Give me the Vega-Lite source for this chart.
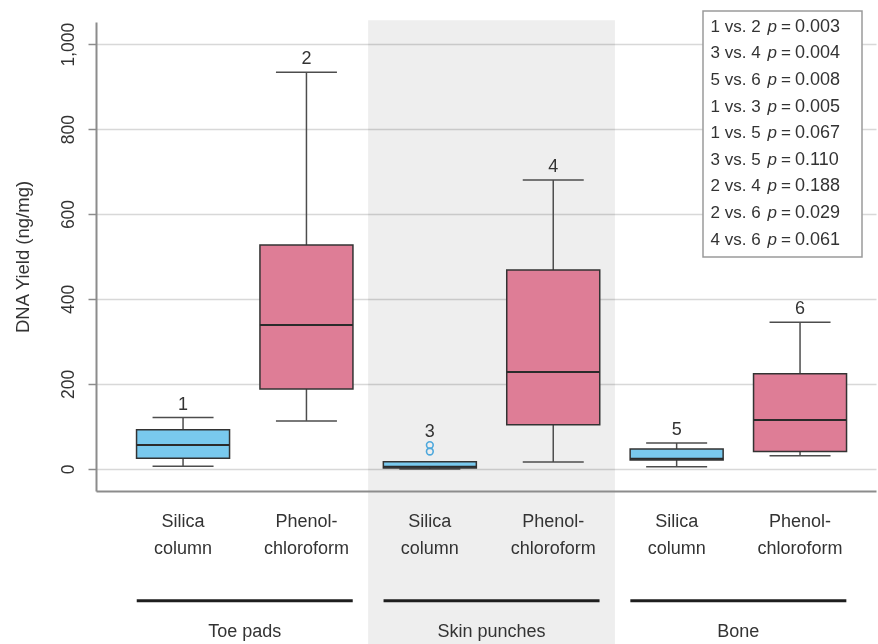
{
  "$schema": "https://vega.github.io/schema/vega-lite/v6.json",
  "width": 780,
  "height": 469,
  "autosize": {"type": "none"},
  "padding": {"left": 96, "top": 22, "right": 2, "bottom": 153},
  "background": "white",
  "config": {
    "view": {"stroke": null},
    "font": "Liberation Sans",
    "numberFormat": ",d",
    "text": {"font": "Liberation Sans", "color": "#333333"},
    "tick": {"opacity": 1},
    "axisY": {
      "tickCount": 6,
      "labelAngle": -90,
      "labelAlign": "center",
      "labelBaseline": "bottom",
      "labelFontSize": 17.5,
      "labelColor": "#333333",
      "labelPadding": 11,
      "tickSize": 8,
      "tickColor": "#8c8c8c",
      "tickWidth": 1.5,
      "domainColor": "#8c8c8c",
      "domainWidth": 2,
      "grid": true,
      "gridColor": "#d8d8d8",
      "gridWidth": 1.5,
      "titleFontSize": 18.5,
      "titleFontWeight": "normal",
      "titleColor": "#333333",
      "titlePadding": 27
    },
    "axisX": {
      "grid": false,
      "ticks": false,
      "labelAngle": 0,
      "labelFontSize": 18,
      "labelLineHeight": 27,
      "labelBaseline": "top",
      "labelPadding": 21,
      "labelColor": "#333333",
      "labelOverlap": false,
      "domainColor": "#8c8c8c",
      "domainWidth": 2
    }
  },
  "datasets": {
    "boxes": [
      {"id": 1, "tissue": "Toe pads", "method": "Silica column", "lo": 6, "q1": 25, "median": 56, "q3": 92, "hi": 121, "max": 121},
      {"id": 2, "tissue": "Toe pads", "method": "Phenol-chloroform", "lo": 113, "q1": 188, "median": 339, "q3": 527, "hi": 934, "max": 934},
      {"id": 3, "tissue": "Skin punches", "method": "Silica column", "lo": 0, "q1": 2, "median": 5, "q3": 17, "hi": 17, "max": 56},
      {"id": 4, "tissue": "Skin punches", "method": "Phenol-chloroform", "lo": 16, "q1": 104, "median": 228, "q3": 468, "hi": 680, "max": 680},
      {"id": 5, "tissue": "Bone", "method": "Silica column", "lo": 5, "q1": 21, "median": 24, "q3": 47, "hi": 61, "max": 61},
      {"id": 6, "tissue": "Bone", "method": "Phenol-chloroform", "lo": 31, "q1": 41, "median": 115, "q3": 224, "hi": 345, "max": 345}
    ],
    "outliers": [
      {"id": 3, "value": 56},
      {"id": 3, "value": 41}
    ],
    "tests": [
      {"pair": "1 vs. 2", "p": 0.003},
      {"pair": "3 vs. 4", "p": 0.004},
      {"pair": "5 vs. 6", "p": 0.008},
      {"pair": "1 vs. 3", "p": 0.005},
      {"pair": "1 vs. 5", "p": 0.067},
      {"pair": "3 vs. 5", "p": 0.110},
      {"pair": "2 vs. 4", "p": 0.188},
      {"pair": "2 vs. 6", "p": 0.029},
      {"pair": "4 vs. 6", "p": 0.061}
    ]
  },
  "layer": [
    {
      "data": {"name": "boxes"},
      "encoding": {
        "x": {
          "field": "id",
          "type": "ordinal",
          "title": null,
          "scale": {"type": "band", "domain": [1, 2, 3, 4, 5, 6], "paddingInner": 0, "paddingOuter": 0.1605, "align": 0.64},
          "axis": {
            "title": null,
            "labelExpr": "datum.value % 2 == 1 ? ['Silica', 'column'] : ['Phenol-', 'chloroform']"
          }
        }
      },
      "layer": [
        {
          "transform": [{"filter": "datum.tissue == 'Skin punches'"}],
          "mark": {"type": "rect", "fill": "#eeeeee", "blend": "multiply", "clip": false},
          "encoding": {
            "y": {"datum": 1056, "type": "quantitative", "title": "DNA Yield (ng/mg)", "scale": {"domain": [-52, 1052], "nice": false, "zero": false}},
            "y2": {"datum": -420}
          }
        },
        {
          "mark": {"type": "rule", "color": "#4d4d4d", "strokeWidth": 1.5},
          "encoding": {
            "y": {"field": "lo", "type": "quantitative", "title": "DNA Yield (ng/mg)", "scale": {"domain": [-52, 1052], "nice": false, "zero": false}},
            "y2": {"field": "q1"}
          }
        },
        {
          "mark": {"type": "rule", "color": "#4d4d4d", "strokeWidth": 1.5},
          "encoding": {
            "y": {"field": "q3", "type": "quantitative", "title": "DNA Yield (ng/mg)", "scale": {"domain": [-52, 1052], "nice": false, "zero": false}},
            "y2": {"field": "hi"}
          }
        },
        {
          "mark": {"type": "tick", "orient": "horizontal", "color": "#4d4d4d", "size": 61, "thickness": 1.5},
          "encoding": {
            "y": {"field": "lo", "type": "quantitative", "title": "DNA Yield (ng/mg)", "scale": {"domain": [-52, 1052], "nice": false, "zero": false}}
          }
        },
        {
          "mark": {"type": "tick", "orient": "horizontal", "color": "#4d4d4d", "size": 61, "thickness": 1.5},
          "encoding": {
            "y": {"field": "hi", "type": "quantitative", "title": "DNA Yield (ng/mg)", "scale": {"domain": [-52, 1052], "nice": false, "zero": false}}
          }
        },
        {
          "mark": {"type": "bar", "width": 93, "stroke": "#333333", "strokeWidth": 1.5, "opacity": 1},
          "encoding": {
            "y": {"field": "q1", "type": "quantitative", "title": "DNA Yield (ng/mg)", "scale": {"domain": [-52, 1052], "nice": false, "zero": false}},
            "y2": {"field": "q3"},
            "color": {
              "field": "method",
              "type": "nominal",
              "scale": {"domain": ["Silica column", "Phenol-chloroform"], "range": ["#79c9ee", "#de7d96"]},
              "legend": null
            }
          }
        },
        {
          "mark": {"type": "tick", "orient": "horizontal", "color": "#2b2b2b", "size": 93, "thickness": 2},
          "encoding": {
            "y": {"field": "median", "type": "quantitative", "title": "DNA Yield (ng/mg)", "scale": {"domain": [-52, 1052], "nice": false, "zero": false}}
          }
        },
        {
          "data": {"name": "outliers"},
          "mark": {"type": "point", "shape": "circle", "filled": false, "stroke": "#4ea8dc", "strokeWidth": 1.6, "size": 45, "opacity": 1},
          "encoding": {
            "y": {"field": "value", "type": "quantitative", "title": "DNA Yield (ng/mg)", "scale": {"domain": [-52, 1052], "nice": false, "zero": false}}
          }
        },
        {
          "mark": {"type": "text", "fontSize": 18, "baseline": "alphabetic", "dy": -8, "color": "#333333"},
          "encoding": {
            "y": {"field": "max", "type": "quantitative", "title": "DNA Yield (ng/mg)", "scale": {"domain": [-52, 1052], "nice": false, "zero": false}},
            "text": {"field": "id", "type": "nominal"}
          }
        }
      ]
    },
    {
      "data": {"name": "boxes"},
      "transform": [{"filter": "datum.method == 'Silica column'"}],
      "encoding": {
        "x": {
          "field": "tissue",
          "type": "nominal",
          "scale": {"type": "band", "domain": ["Toe pads", "Skin punches", "Bone"], "paddingInner": 0, "paddingOuter": 0.0802, "align": 0.64},
          "axis": null
        }
      },
      "layer": [
        {
          "mark": {"type": "tick", "orient": "horizontal", "color": "#1e1e1e", "size": 216, "thickness": 3, "clip": false},
          "encoding": {
            "y": {"datum": -310.6, "type": "quantitative", "scale": {"domain": [-52, 1052], "nice": false, "zero": false}, "axis": null}
          }
        },
        {
          "mark": {"type": "text", "fontSize": 18, "baseline": "middle", "clip": false, "color": "#333333"},
          "encoding": {
            "y": {"datum": -383, "type": "quantitative", "scale": {"domain": [-52, 1052], "nice": false, "zero": false}, "axis": null},
            "text": {"field": "tissue", "type": "nominal"}
          }
        }
      ]
    },
    {
      "data": {"name": "tests"},
      "encoding": {
        "x": {
          "datum": 6,
          "type": "ordinal",
          "scale": {"type": "band", "domain": [1, 2, 3, 4, 5, 6], "paddingInner": 0, "paddingOuter": 0.1605, "align": 0.64},
          "axis": null
        },
        "y": {"field": "pair", "type": "nominal", "sort": null, "scale": {"type": "point", "range": [4.7, 217.5], "padding": 0}, "axis": null}
      },
      "layer": [
        {
          "transform": [{"aggregate": [{"op": "count", "as": "n"}]}],
          "mark": {"type": "rect", "x": 607, "x2": 766, "y": -11, "y2": 235, "fill": "white", "stroke": "#9a9a9a", "strokeWidth": 1.5},
          "encoding": {"x": null, "y": null}
        },
        {
          "mark": {"type": "text", "fontSize": 17, "align": "left", "baseline": "middle", "dx": -89.5, "color": "#333333"},
          "encoding": {"text": {"field": "pair", "type": "nominal"}}
        },
        {
          "mark": {"type": "text", "fontSize": 17, "align": "left", "baseline": "middle", "fontStyle": "italic", "dx": -32.5, "color": "#333333"},
          "encoding": {"text": {"value": "p"}}
        },
        {
          "mark": {"type": "text", "fontSize": 17, "align": "left", "baseline": "middle", "dx": -19, "color": "#333333"},
          "encoding": {"text": {"value": "="}}
        },
        {
          "mark": {"type": "text", "fontSize": 18, "align": "left", "baseline": "middle", "dx": -5, "color": "#333333"},
          "encoding": {"text": {"field": "p", "type": "quantitative", "format": ".3f"}}
        }
      ]
    }
  ],
  "resolve": {"scale": {"x": "independent", "y": "independent"}}
}
